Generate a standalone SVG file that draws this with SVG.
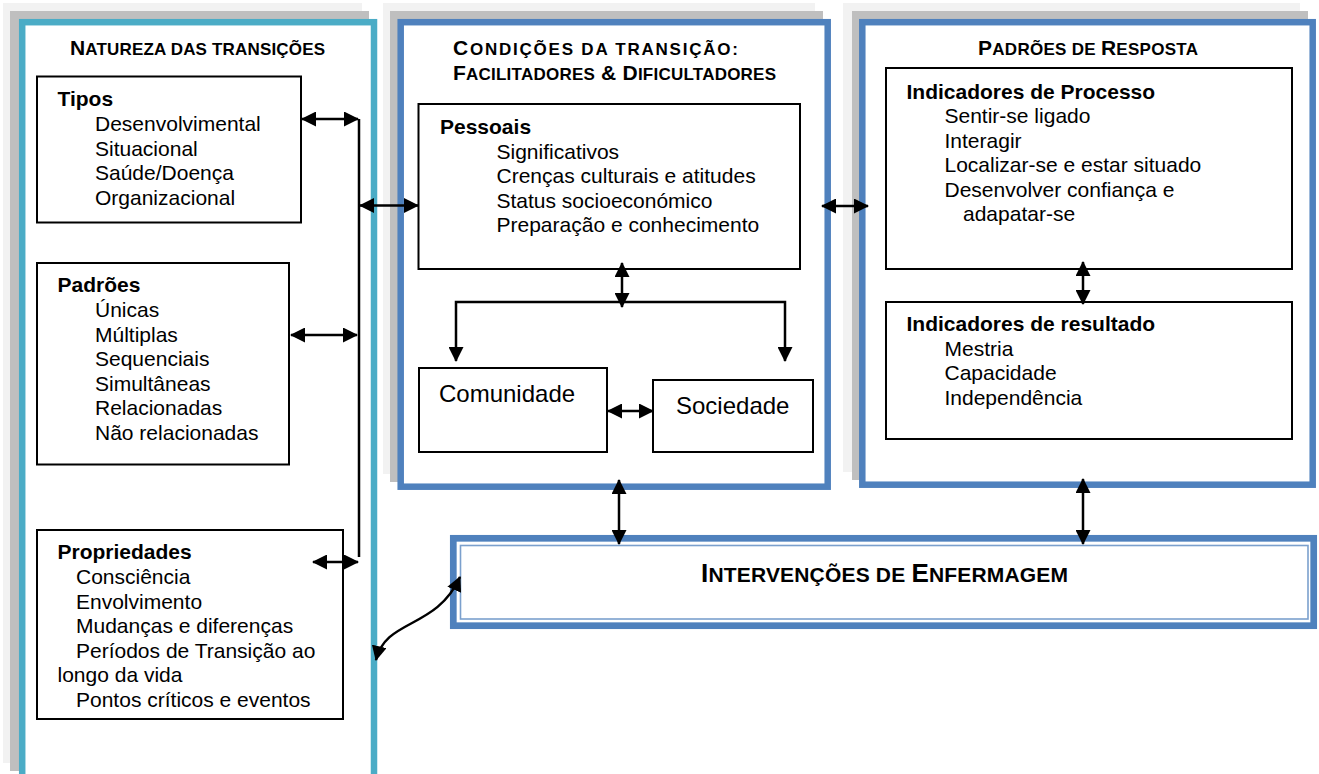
<svg xmlns="http://www.w3.org/2000/svg" width="1319" height="774" viewBox="0 0 1319 774">
<style>
text{font-family:"Liberation Sans",Arial,sans-serif;fill:#000}
.t{font-size:21px}
.b{font-size:21px;font-weight:bold}
.h{font-weight:bold}
.big{font-size:21px}
.sm{font-size:17px}
.ibig{font-size:26px}
.ism{font-size:21px}
.box{fill:#fff;stroke:#000;stroke-width:2}
.sh1{fill:#f2f2f2}
.sh2{fill:#bfbfbf}
.tealp{fill:#fff;stroke:#4bacc6;stroke-width:6.5}
.bluep{fill:#fff;stroke:#4f81bd;stroke-width:6.5}
.con{fill:none;stroke:#000;stroke-width:2.5}
.arr{marker-start:url(#ah);marker-end:url(#ah)}
</style>
<defs>
<marker id="ah" markerUnits="userSpaceOnUse" viewBox="0 0 15 15" markerWidth="15" markerHeight="15" refX="14" refY="7.5" orient="auto-start-reverse"><path d="M0,0 L15,7.5 L0,15 z" fill="#000"/></marker>
</defs>
<rect width="1319" height="774" fill="#fff"/>

<g id="panel-natureza">
<rect class="sh1" x="3" y="3" width="359" height="760"/>
<rect class="sh2" x="10" y="11" width="359" height="760"/>
<rect class="tealp" x="22.2" y="22.2" width="351.8" height="760"/>
<text class="h" x="70" y="55" textLength="255" lengthAdjust="spacing"><tspan class="big">N</tspan><tspan class="sm">ATUREZA DAS TRANSIÇÕES</tspan></text>
</g>

<g id="node-tipos">
<rect class="box" x="37" y="76.5" width="264" height="146"/>
<text class="b" x="57.5" y="106">Tipos</text>
<text class="t" x="95" y="131">Desenvolvimental</text>
<text class="t" x="95" y="155.5">Situacional</text>
<text class="t" x="95" y="180">Saúde/Doença</text>
<text class="t" x="95" y="204.5">Organizacional</text>
</g>

<g id="node-padroes">
<rect class="box" x="37" y="263" width="252" height="201.5"/>
<text class="b" x="57.5" y="292">Padrões</text>
<text class="t" x="95" y="317">Únicas</text>
<text class="t" x="95" y="341.5">Múltiplas</text>
<text class="t" x="95" y="366">Sequenciais</text>
<text class="t" x="95" y="390.5">Simultâneas</text>
<text class="t" x="95" y="415">Relacionadas</text>
<text class="t" x="95" y="440">Não relacionadas</text>
</g>

<g id="node-propriedades">
<rect class="box" x="37" y="530" width="306" height="189"/>
<text class="b" x="57.5" y="559">Propriedades</text>
<text class="t" x="76" y="584">Consciência</text>
<text class="t" x="76" y="608.5">Envolvimento</text>
<text class="t" x="76" y="633">Mudanças e diferenças</text>
<text class="t" x="76" y="657.5">Períodos de Transição ao</text>
<text class="t" x="57.5" y="682">longo da vida</text>
<text class="t" x="76" y="706.5">Pontos críticos e eventos</text>
</g>

<g id="panel-condicoes">
<rect class="sh1" x="383" y="3" width="432" height="471"/>
<rect class="sh2" x="390" y="11" width="433" height="471"/>
<rect class="bluep" x="400.7" y="22.2" width="427" height="464.5"/>
<text class="h" x="453" y="55" textLength="285" lengthAdjust="spacing"><tspan class="big">C</tspan><tspan class="sm">ONDIÇÕES DA TRANSIÇÃO:</tspan></text>
<text class="h" x="453" y="80" textLength="323" lengthAdjust="spacing"><tspan class="big">F</tspan><tspan class="sm">ACILITADORES</tspan><tspan class="big"> &amp; D</tspan><tspan class="sm">IFICULTADORES</tspan></text>
</g>

<g id="node-pessoais">
<rect class="box" x="418.5" y="104" width="381.5" height="165"/>
<text class="b" x="440" y="133.5">Pessoais</text>
<text class="t" x="496.5" y="158.5">Significativos</text>
<text class="t" x="496.5" y="182.5">Crenças culturais e atitudes</text>
<text class="t" x="496.5" y="207.5">Status socioeconómico</text>
<text class="t" x="496.5" y="231.5">Preparação e conhecimento</text>
</g>

<g id="node-comunidade">
<rect class="box" x="419" y="368" width="188" height="84"/>
<text x="439" y="402" style="font-size:24px">Comunidade</text>
</g>

<g id="node-sociedade">
<rect class="box" x="653" y="380" width="160" height="72"/>
<text x="676" y="414" style="font-size:24px">Sociedade</text>
</g>

<g id="panel-padroes-resposta">
<rect class="sh1" x="843" y="3" width="457" height="469"/>
<rect class="sh2" x="852" y="11" width="456" height="469"/>
<rect class="bluep" x="862.3" y="22.2" width="450.4" height="462.5"/>
<text class="h" x="978" y="55" textLength="220" lengthAdjust="spacing"><tspan class="big">P</tspan><tspan class="sm">ADRÕES DE </tspan><tspan class="big">R</tspan><tspan class="sm">ESPOSTA</tspan></text>
</g>

<g id="node-processo">
<rect class="box" x="886" y="68" width="406" height="201"/>
<text class="b" x="906.5" y="99">Indicadores de Processo</text>
<text class="t" x="944.5" y="123">Sentir-se ligado</text>
<text class="t" x="944.5" y="147.5">Interagir</text>
<text class="t" x="944.5" y="172">Localizar-se e estar situado</text>
<text class="t" x="944.5" y="196.5">Desenvolver confiança e</text>
<text class="t" x="963" y="221">adapatar-se</text>
</g>

<g id="node-resultado">
<rect class="box" x="886" y="302" width="406" height="137"/>
<text class="b" x="906.5" y="331">Indicadores de resultado</text>
<text class="t" x="944.5" y="355.5">Mestria</text>
<text class="t" x="944.5" y="380">Capacidade</text>
<text class="t" x="944.5" y="404.5">Independência</text>
</g>

<g id="node-intervencoes">
<rect x="453.3" y="538.3" width="860.4" height="87.4" fill="#fff" stroke="#4f81bd" stroke-width="6.7"/>
<rect x="460.5" y="545.5" width="847.5" height="73.5" fill="none" stroke="#7ba0cd" stroke-width="1.6"/>
<text class="h" x="701" y="582" textLength="367" lengthAdjust="spacing"><tspan class="ibig">I</tspan><tspan class="ism">NTERVENÇÕES DE </tspan><tspan class="ibig">E</tspan><tspan class="ism">NFERMAGEM</tspan></text>
</g>

<g id="connectors">
<path class="con" d="M359,119 V557"/>
<path class="con arr" d="M302,119 H358"/>
<path class="con arr" d="M291,335 H357"/>
<path class="con arr" d="M313,562 H358"/>
<path class="con arr" d="M360,205.5 H418"/>
<path class="con arr" d="M822,206 H868"/>
<path class="con arr" d="M622,263 V307"/>
<path class="con arr" d="M456,361 V302 H785 V361"/>
<path class="con arr" d="M608,411 H653"/>
<path class="con arr" d="M619,480 V544"/>
<path class="con arr" d="M1083,479 V544"/>
<path class="con arr" d="M1083,262 V304"/>
<path class="con arr" d="M376,660 C386,618 436,630 460,577"/>
</g>
</svg>
